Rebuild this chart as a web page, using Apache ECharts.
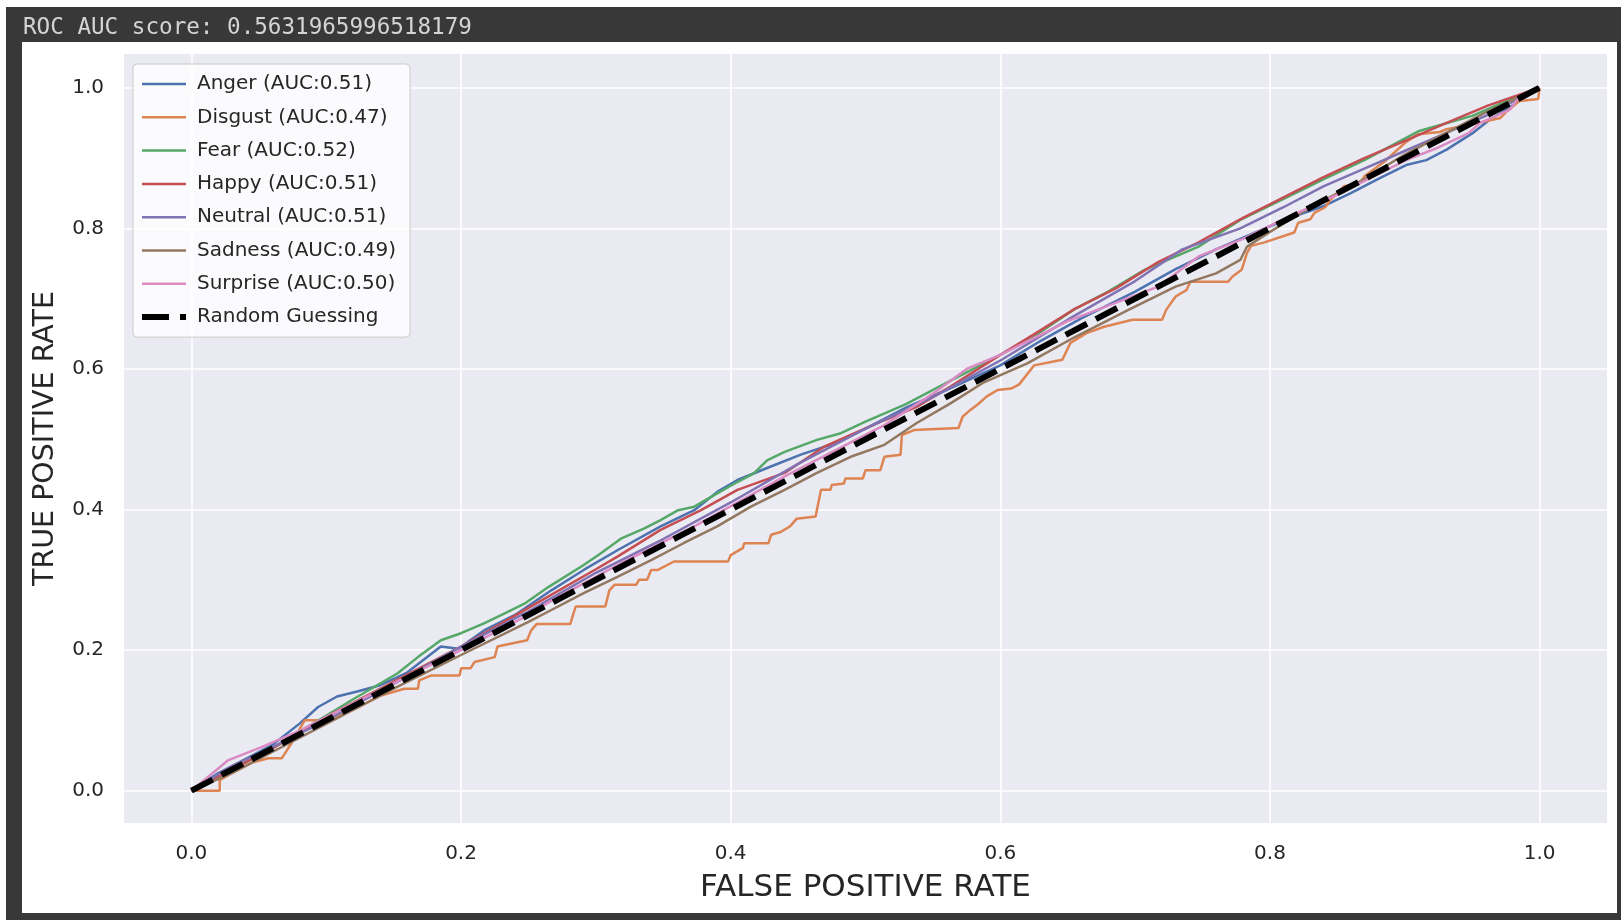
<!DOCTYPE html>
<html><head><meta charset="utf-8">
<script src="https://cdn.jsdelivr.net/npm/echarts@6/dist/echarts.min.js"></script>
<style>
html,body{margin:0;padding:0;background:#fff;width:1621px;height:920px;overflow:hidden;}
#frame{position:absolute;left:6px;top:7px;width:1615px;height:913px;background:#383838;}
#panel{position:absolute;left:22px;top:42px;width:1595px;height:871px;background:#fff;}
#chart{position:absolute;left:0;top:0;width:1621px;height:920px;}
</style></head>
<body><div id="frame"></div><div id="panel"></div><div id="chart"></div>
<script>
// ---- data ----
const headerText = 'ROC AUC score: 0.5631965996518179';
const classNames = ['Anger', 'Disgust', 'Fear', 'Happy', 'Neutral', 'Sadness', 'Surprise'];
const classAuc = ['0.51', '0.47', '0.52', '0.51', '0.51', '0.49', '0.50'];
const tickValues = [0, 0.2, 0.4, 0.6, 0.8, 1.0];

const anger = [[0,0],[0.02,0.025],[0.04,0.045],[0.06,0.065],[0.08,0.095],[0.094,0.119],[0.108,0.134],[0.123,0.141],[0.14,0.15],[0.16,0.168],[0.185,0.205],[0.198,0.202],[0.217,0.228],[0.24,0.25],[0.267,0.285],[0.291,0.314],[0.316,0.342],[0.348,0.376],[0.373,0.399],[0.39,0.425],[0.405,0.442],[0.427,0.459],[0.452,0.478],[0.477,0.494],[0.5,0.515],[0.53,0.545],[0.56,0.57],[0.6,0.605],[0.63,0.64],[0.66,0.672],[0.7,0.71],[0.73,0.742],[0.76,0.77],[0.79,0.795],[0.818,0.817],[0.839,0.831],[0.86,0.85],[0.88,0.87],[0.901,0.89],[0.916,0.897],[0.931,0.912],[0.95,0.935],[0.962,0.953],[0.98,0.975],[1,1]];
const disgust = [[0,0],[0.021,0],[0.021,0.015],[0.03,0.025],[0.045,0.04],[0.057,0.046],[0.067,0.046],[0.075,0.07],[0.084,0.1],[0.1,0.1],[0.12,0.115],[0.14,0.135],[0.158,0.145],[0.168,0.145],[0.169,0.157],[0.178,0.164],[0.199,0.164],[0.2,0.174],[0.207,0.174],[0.21,0.183],[0.225,0.19],[0.227,0.205],[0.249,0.214],[0.252,0.228],[0.256,0.237],[0.281,0.237],[0.285,0.262],[0.307,0.262],[0.31,0.285],[0.314,0.293],[0.33,0.293],[0.332,0.3],[0.338,0.3],[0.341,0.314],[0.346,0.314],[0.358,0.326],[0.398,0.326],[0.4,0.335],[0.409,0.345],[0.41,0.352],[0.428,0.352],[0.43,0.364],[0.437,0.368],[0.444,0.376],[0.449,0.387],[0.463,0.39],[0.467,0.428],[0.474,0.428],[0.475,0.435],[0.484,0.437],[0.485,0.444],[0.498,0.444],[0.5,0.456],[0.511,0.456],[0.514,0.475],[0.526,0.478],[0.527,0.506],[0.536,0.513],[0.569,0.516],[0.572,0.532],[0.578,0.542],[0.583,0.549],[0.59,0.561],[0.598,0.57],[0.608,0.572],[0.614,0.578],[0.625,0.605],[0.646,0.613],[0.652,0.637],[0.664,0.651],[0.677,0.66],[0.698,0.67],[0.72,0.67],[0.723,0.684],[0.73,0.703],[0.738,0.712],[0.741,0.724],[0.769,0.724],[0.772,0.731],[0.779,0.741],[0.783,0.765],[0.786,0.775],[0.796,0.78],[0.818,0.794],[0.821,0.808],[0.83,0.813],[0.833,0.822],[0.841,0.83],[0.845,0.841],[0.855,0.86],[0.867,0.865],[0.87,0.874],[0.885,0.895],[0.901,0.923],[0.91,0.934],[0.926,0.937],[0.931,0.941],[0.95,0.948],[0.971,0.957],[0.976,0.967],[0.985,0.981],[0.999,0.984],[1,1]];
const fear = [[0,0],[0.03,0.03],[0.06,0.06],[0.09,0.095],[0.12,0.13],[0.153,0.167],[0.168,0.19],[0.185,0.214],[0.2,0.224],[0.217,0.238],[0.232,0.252],[0.247,0.266],[0.265,0.29],[0.291,0.321],[0.304,0.338],[0.319,0.359],[0.336,0.373],[0.348,0.385],[0.361,0.399],[0.373,0.404],[0.39,0.423],[0.403,0.437],[0.417,0.451],[0.427,0.47],[0.44,0.482],[0.454,0.492],[0.464,0.499],[0.481,0.508],[0.5,0.525],[0.53,0.55],[0.56,0.58],[0.6,0.62],[0.624,0.645],[0.655,0.685],[0.68,0.71],[0.707,0.741],[0.747,0.774],[0.778,0.812],[0.809,0.841],[0.84,0.87],[0.87,0.897],[0.91,0.938],[0.95,0.96],[0.98,0.985],[1,1]];
const happy = [[0,0],[0.03,0.03],[0.06,0.06],[0.1,0.105],[0.15,0.155],[0.2,0.205],[0.25,0.26],[0.3,0.315],[0.316,0.333],[0.348,0.371],[0.378,0.399],[0.405,0.428],[0.44,0.452],[0.469,0.489],[0.489,0.506],[0.514,0.527],[0.538,0.546],[0.563,0.575],[0.6,0.62],[0.624,0.648],[0.655,0.685],[0.686,0.715],[0.717,0.752],[0.747,0.78],[0.78,0.815],[0.809,0.843],[0.839,0.872],[0.87,0.9],[0.901,0.925],[0.931,0.95],[0.962,0.975],[1,1]];
const neutral = [[0,0],[0.03,0.035],[0.06,0.062],[0.1,0.1],[0.15,0.152],[0.2,0.205],[0.25,0.255],[0.3,0.31],[0.35,0.358],[0.4,0.41],[0.45,0.465],[0.5,0.515],[0.55,0.56],[0.6,0.612],[0.65,0.67],[0.7,0.725],[0.735,0.77],[0.778,0.8],[0.81,0.83],[0.84,0.86],[0.87,0.885],[0.9,0.91],[0.93,0.935],[0.96,0.96],[1,1]];
const sadness = [[0,0],[0.03,0.025],[0.06,0.055],[0.1,0.095],[0.15,0.145],[0.2,0.193],[0.25,0.24],[0.267,0.257],[0.291,0.281],[0.316,0.304],[0.341,0.328],[0.365,0.352],[0.39,0.376],[0.415,0.404],[0.44,0.428],[0.464,0.452],[0.489,0.475],[0.514,0.492],[0.538,0.523],[0.563,0.551],[0.587,0.58],[0.62,0.608],[0.655,0.645],[0.695,0.684],[0.73,0.717],[0.76,0.736],[0.778,0.755],[0.783,0.774],[0.8,0.795],[0.83,0.83],[0.87,0.87],[0.9,0.905],[0.93,0.935],[0.96,0.965],[1,1]];
const surprise = [[0,0],[0.027,0.043],[0.052,0.062],[0.08,0.085],[0.1,0.105],[0.15,0.153],[0.2,0.2],[0.25,0.25],[0.267,0.27],[0.321,0.326],[0.373,0.376],[0.44,0.447],[0.514,0.52],[0.551,0.566],[0.575,0.6],[0.6,0.62],[0.65,0.668],[0.717,0.717],[0.747,0.76],[0.78,0.785],[0.809,0.812],[0.85,0.848],[0.901,0.897],[0.925,0.915],[0.947,0.935],[0.956,0.95],[0.978,0.969],[0.985,0.987],[1,1]];
const randomGuess = [[0,0],[1,1]];
const randomName = 'Random Guessing';

const classData = [anger, disgust, fear, happy, neutral, sadness, surprise];
const palette = ['#4C72B0', '#DD8452', '#55A868', '#C44E52', '#8172B3', '#937860', '#DA8BC3'];

// ---- chart ----
const chart = echarts.init(document.getElementById('chart'), null, {renderer: 'canvas'});
const textColor = '#262626';
const font = '"DejaVu Sans", sans-serif';

const series = classNames.map((n, i) => ({
  name: `${n} (AUC:${classAuc[i]})`,
  type: 'line',
  data: classData[i],
  symbol: 'none',
  lineStyle: {color: palette[i], width: 2.5},
  itemStyle: {color: palette[i]},
  animation: false,
  z: 2 + i
}));
series.push({
  name: randomName,
  type: 'line',
  data: randomGuess,
  symbol: 'none',
  lineStyle: {color: '#000', width: 6, type: [24, 10], cap: 'butt'},
  itemStyle: {color: '#000'},
  animation: false,
  z: 20
});

const legendData = series.map((s, i) => i < classNames.length
  ? {name: s.name}
  : {name: s.name, lineStyle: {width: 6, type: [27, 11], cap: 'butt'}});

const axisCommon = {
  type: 'value',
  axisLine: {show: false},
  axisTick: {show: false, customValues: tickValues},
  splitLine: {show: true, lineStyle: {color: '#ffffff', width: 1.6}},
  axisLabel: {customValues: tickValues, color: textColor, fontSize: 20, fontFamily: font,
              formatter: v => Number(v).toFixed(1)},
  nameLocation: 'middle',
  nameTextStyle: {color: textColor, fontSize: 29, fontFamily: font}
};

chart.setOption({
  animation: false,
  backgroundColor: 'transparent',
  title: {
    text: headerText, left: 23, top: 17, padding: 0,
    textStyle: {color: '#d4d4d4', fontSize: 22.6, fontWeight: 'normal', fontFamily: '"DejaVu Sans Mono", monospace', lineHeight: 23}
  },
  grid: {left: 124, top: 54, width: 1483, height: 769, show: true, backgroundColor: '#EAEAF2', borderWidth: 0, containLabel: false},
  xAxis: Object.assign({}, axisCommon, {
    min: -0.05, max: 1.05, name: 'FALSE POSITIVE RATE', nameGap: 49,
    nameTextStyle: {color: textColor, fontSize: 31, fontFamily: font},
    axisLabel: Object.assign({}, axisCommon.axisLabel, {margin: 21})
  }),
  yAxis: Object.assign({}, axisCommon, {
    min: -0.046, max: 1.048, name: 'TRUE POSITIVE RATE', nameGap: 64, nameRotate: 90,
    nameTextStyle: {color: textColor, fontSize: 28.5, fontFamily: font},
    axisLabel: Object.assign({}, axisCommon.axisLabel, {margin: 20})
  }),
  legend: {
    orient: 'vertical', left: 133, top: 64,
    padding: [10, 14, 10, 6],
    itemWidth: 44, itemHeight: 20, itemGap: 13.3,
    backgroundColor: 'rgba(255,255,255,0.8)', borderColor: '#cccccc', borderWidth: 1, borderRadius: 4,
    textStyle: {color: textColor, fontSize: 20, fontFamily: font, padding: [0, 0, 0, 6]},
    itemStyle: {opacity: 0},
    lineStyle: {width: 2.5},
    data: legendData
  },
  series: series
});
</script>
</body></html>
